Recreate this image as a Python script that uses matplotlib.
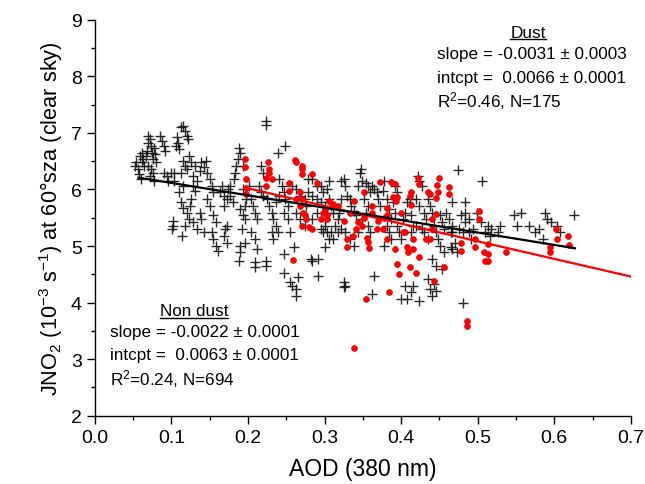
import matplotlib
matplotlib.use("Agg")
import matplotlib.pyplot as plt
from matplotlib.lines import Line2D
from matplotlib.ticker import MultipleLocator

# ===========================
# Data
# ===========================
# non dust days (black crosses)
nondust_aod = [
    0.053, 0.054, 0.056, 0.059, 0.058, 0.060, 0.061, 0.063, 0.064, 0.061, 0.067, 0.068, 0.069, 0.070,
    0.072, 0.074, 0.075, 0.076, 0.077, 0.079, 0.080, 0.076, 0.074, 0.072, 0.069, 0.077, 0.085, 0.088,
    0.091, 0.092, 0.090, 0.094, 0.096, 0.099, 0.101, 0.102, 0.102, 0.104, 0.104, 0.107, 0.108, 0.110,
    0.106,
    0.112, 0.115, 0.118, 0.120, 0.122, 0.115, 0.118, 0.120, 0.112, 0.123, 0.126, 0.128, 0.115, 0.110,
    0.112, 0.115, 0.120, 0.123, 0.118, 0.114, 0.126, 0.128, 0.131, 0.134, 0.137, 0.139, 0.134, 0.142,
    0.128, 0.124, 0.131, 0.137, 0.139, 0.142, 0.145,
    0.147, 0.150, 0.153, 0.155, 0.147, 0.150, 0.155, 0.158, 0.153, 0.155, 0.158, 0.161, 0.163, 0.166,
    0.169, 0.172, 0.169, 0.172, 0.169, 0.173, 0.170, 0.174, 0.177, 0.180, 0.177, 0.182, 0.183, 0.185,
    0.187, 0.188, 0.190, 0.193, 0.190, 0.193, 0.192, 0.190, 0.190, 0.188, 0.196, 0.197, 0.193, 0.196,
    0.196,
    0.201, 0.204, 0.206, 0.209, 0.212, 0.204, 0.209, 0.212, 0.209, 0.209, 0.223, 0.223, 0.223, 0.224,
    0.215, 0.217, 0.220, 0.225, 0.228, 0.231, 0.233, 0.236, 0.239, 0.231, 0.233, 0.217, 0.220, 0.241,
    0.244, 0.247, 0.249, 0.252, 0.239, 0.249, 0.247, 0.247, 0.255, 0.258, 0.263, 0.263, 0.266, 0.260,
    0.255, 0.252, 0.247, 0.236, 0.241,
    0.258, 0.263, 0.268, 0.274, 0.276, 0.279, 0.284, 0.290, 0.295, 0.301, 0.284, 0.290, 0.298, 0.303,
    0.306, 0.306, 0.301, 0.303, 0.306, 0.301, 0.292, 0.284, 0.292, 0.282, 0.263, 0.268, 0.274, 0.284,
    0.290, 0.295, 0.298, 0.301, 0.303, 0.309, 0.311, 0.314, 0.317, 0.295, 0.279,
    0.322, 0.325, 0.327, 0.330, 0.333, 0.335, 0.338, 0.341, 0.344, 0.346, 0.348, 0.349, 0.352, 0.354,
    0.357, 0.360, 0.322, 0.319, 0.317, 0.322, 0.327, 0.325, 0.325, 0.327, 0.309, 0.311, 0.333, 0.338,
    0.344, 0.349, 0.354, 0.357, 0.357, 0.360, 0.362, 0.365, 0.362, 0.365,
    0.368, 0.370, 0.373, 0.376, 0.378, 0.381, 0.384, 0.387, 0.389, 0.392, 0.395, 0.397, 0.400, 0.403,
    0.405, 0.408, 0.411, 0.400, 0.408, 0.405, 0.413, 0.416, 0.392, 0.395, 0.384, 0.387, 0.381, 0.378,
    0.413, 0.416,
    0.422, 0.424, 0.427, 0.419, 0.424, 0.430, 0.432, 0.435, 0.438, 0.440, 0.443, 0.446, 0.448, 0.451,
    0.454, 0.456, 0.459, 0.462, 0.465, 0.424, 0.435, 0.438, 0.440, 0.443, 0.446, 0.440, 0.446, 0.451,
    0.456, 0.454, 0.435, 0.430, 0.413, 0.419, 0.427, 0.467,
    0.474, 0.475, 0.478, 0.481, 0.483, 0.483, 0.489, 0.491, 0.494, 0.499, 0.505, 0.506, 0.510, 0.513,
    0.516, 0.518, 0.470, 0.467, 0.473, 0.465, 0.481, 0.483, 0.489, 0.467, 0.467,
    0.526, 0.529, 0.548, 0.551, 0.556, 0.567, 0.575, 0.580, 0.588, 0.591, 0.596, 0.604, 0.607, 0.626,
    0.585,
]
nondust_j = [
    6.42, 6.48, 6.36, 6.60, 6.27, 6.18, 6.65, 6.54, 6.42, 6.48, 6.60, 6.68, 6.83, 6.95,
    6.89, 6.77, 6.65, 6.54, 6.74, 6.63, 6.48, 6.30, 6.36, 6.24, 6.42, 6.15, 6.95, 6.86,
    6.77, 6.68, 6.30, 6.24, 6.15, 6.30, 5.30, 5.36, 5.45, 6.15, 6.30, 6.92, 6.83, 6.71,
    6.77,
    7.10, 7.13, 7.04, 6.95, 6.89, 6.51, 6.42, 6.36, 6.30, 6.60, 6.48, 6.24, 6.07, 5.95,
    5.77, 5.68, 5.59, 5.48, 5.36, 5.18, 5.83, 6.07, 5.98, 6.15, 5.59, 5.48, 5.30, 5.24,
    5.42, 5.71, 6.42, 6.33, 6.48, 6.39, 6.51,
    6.30, 6.18, 6.07, 5.95, 5.83, 5.71, 5.54, 5.42, 5.24, 5.12, 5.00, 4.92, 5.95, 6.07,
    5.89, 5.83, 5.71, 5.36, 5.18, 5.06, 5.30, 6.01, 5.89, 5.77, 6.07, 6.18, 6.30, 6.42,
    6.54, 6.74, 6.65, 6.42, 5.65, 5.54, 5.30, 5.00, 4.89, 4.74, 5.06, 5.83, 6.01, 5.71,
    5.48,
    6.07, 5.83, 5.71, 5.59, 5.48, 5.24, 5.12, 4.95, 4.71, 4.62, 4.74, 4.65, 7.21, 7.14,
    6.07, 5.95, 5.89, 5.83, 5.71, 5.59, 5.48, 5.36, 5.24, 5.24, 5.12, 6.42, 6.30, 6.18,
    6.07, 5.95, 5.83, 5.71, 6.65, 6.77, 4.86, 4.53, 4.36, 4.30, 4.24, 4.12, 4.45, 4.98,
    5.24, 5.48, 5.59, 5.77, 5.89,
    6.07, 6.01, 5.89, 5.83, 5.71, 5.95, 5.89, 5.83, 5.77, 5.71, 6.18, 6.07, 5.95, 6.01,
    6.15, 5.83, 5.48, 5.24, 5.12, 4.98, 4.77, 4.74, 4.47, 4.77, 5.59, 5.48, 5.36, 5.48,
    5.59, 5.30, 5.24, 5.36, 5.59, 5.71, 5.59, 5.36, 5.24, 6.07, 6.18,
    6.15, 6.18, 6.07, 5.89, 5.83, 5.71, 5.62, 5.54, 6.07, 6.30, 6.36, 6.15, 5.83, 6.12,
    6.07, 5.95, 5.83, 5.59, 5.48, 5.30, 5.24, 4.36, 4.27, 4.30, 5.24, 5.12, 5.12, 5.00,
    5.24, 5.48, 5.59, 5.71, 5.36, 5.24, 6.07, 6.01, 4.15, 4.47,
    5.95, 5.83, 5.71, 5.98, 6.15, 5.83, 5.65, 5.48, 5.77, 5.59, 5.36, 5.24, 5.12, 5.48,
    5.59, 5.77, 5.83, 4.06, 4.06, 4.30, 4.18, 4.30, 6.07, 5.95, 5.24, 5.12, 5.36, 5.00,
    5.24, 5.36,
    6.24, 6.15, 6.07, 5.83, 5.71, 5.59, 5.48, 5.83, 5.71, 5.59, 5.36, 5.24, 5.12, 5.54,
    5.42, 5.30, 5.59, 5.48, 5.24, 4.03, 4.42, 4.24, 4.12, 4.33, 4.21, 4.77, 4.65, 5.00,
    4.89, 4.59, 5.12, 5.24, 5.54, 5.36, 5.30, 5.77,
    6.35, 5.30, 5.54, 5.24, 5.77, 5.59, 5.48, 5.12, 5.30, 5.59, 5.42, 6.15, 5.24, 5.36,
    5.18, 5.30, 5.06, 4.95, 4.89, 4.98, 4.00, 5.42, 5.24, 5.24, 5.36,
    5.24, 5.36, 5.54, 5.36, 5.59, 5.36, 5.24, 5.30, 5.59, 5.48, 5.42, 5.36, 5.24, 5.54,
    5.12,
]

# dust days (red dots)
dust_aod = [
    0.196, 0.196, 0.197, 0.197, 0.198, 0.226, 0.227, 0.228, 0.224, 0.231, 0.223,
    0.261, 0.263, 0.270, 0.271, 0.270, 0.283, 0.290, 0.254, 0.254, 0.263, 0.268, 0.272, 0.274,
    0.276, 0.271, 0.280, 0.284, 0.259, 0.268, 0.271,
    0.298, 0.301, 0.303, 0.306, 0.311, 0.317, 0.295, 0.303,
    0.326, 0.333, 0.338, 0.341, 0.344, 0.351, 0.330, 0.330, 0.337, 0.339, 0.349, 0.352, 0.354,
    0.355, 0.357, 0.358, 0.362, 0.362, 0.368, 0.370,
    0.373, 0.376, 0.378, 0.381, 0.381, 0.382, 0.387, 0.389, 0.392, 0.393, 0.395, 0.392, 0.395,
    0.397, 0.400, 0.403, 0.384,
    0.405, 0.408, 0.409, 0.411, 0.413, 0.413, 0.416, 0.416, 0.419, 0.422, 0.423, 0.424, 0.432,
    0.435, 0.438, 0.438, 0.440, 0.441, 0.446, 0.446, 0.447, 0.448, 0.450, 0.443, 0.456, 0.462,
    0.462, 0.411,
    0.478, 0.478, 0.486, 0.486, 0.497, 0.497, 0.502, 0.502, 0.508, 0.510, 0.513, 0.514, 0.514,
    0.537, 0.594, 0.594, 0.602, 0.603, 0.618, 0.619,
]
dust_j = [
    6.54, 6.39, 6.18, 6.02, 5.92, 6.48, 6.36, 6.30, 6.21, 6.19, 6.07,
    6.52, 6.48, 6.42, 6.36, 6.27, 6.28, 6.12, 6.12, 5.97, 5.83, 5.95, 5.59, 5.54,
    5.48, 5.36, 5.33, 5.30, 4.76, 5.71, 5.83,
    5.59, 5.65, 5.48, 5.80, 5.74, 5.71, 5.48, 5.54,
    5.45, 5.59, 5.80, 5.30, 5.42, 5.96, 5.12, 4.98, 5.18, 3.20, 5.36, 5.50, 4.06,
    5.15, 5.07, 4.97, 5.59, 5.71, 5.30, 5.45,
    6.14, 5.30, 5.50, 5.68, 5.54, 5.12, 6.14, 5.86, 6.10, 5.80, 5.86, 4.95, 4.68,
    4.50, 5.59, 5.24, 4.18,
    5.24, 4.98, 4.89, 4.62, 5.96, 5.73, 5.12, 4.95, 4.52, 6.20, 6.09, 4.80, 5.12,
    5.96, 5.92, 5.12, 5.30, 5.48, 5.56, 5.85, 6.08, 5.95, 6.20, 4.38, 4.62, 5.92,
    6.04, 5.89,
    4.92, 5.06, 3.68, 3.59, 5.12, 4.98, 5.62, 5.48, 4.89, 4.74, 5.03, 4.86, 4.74,
    4.89, 4.98, 4.89, 5.30, 5.12, 5.18, 5.01,
]

# regression lines (end points)
nondust_fit_aod = [0.057, 0.627]
nondust_fit_j = [6.21, 4.96]
dust_fit_aod = [0.200, 0.700]
dust_fit_j = [6.02, 4.46]

dust_text = ["slope = -0.0031 \u00b1 0.0003",
             "intcpt =  0.0066 \u00b1 0.0001",
             "R$^2$=0.46, N=175"]
nondust_text = ["slope = -0.0022 \u00b1 0.0001",
                "intcpt =  0.0063 \u00b1 0.0001",
                "R$^2$=0.24, N=694"]

# ===========================
# Plot
# ===========================
plt.rcParams["font.family"] = ["Liberation Sans", "DejaVu Sans"]
plt.rcParams["mathtext.fontset"] = "custom"
plt.rcParams["mathtext.rm"] = "Liberation Sans"
plt.rcParams["mathtext.it"] = "Liberation Sans:italic"
plt.rcParams["mathtext.default"] = "regular"

fig = plt.figure(figsize=(6.45, 4.85), dpi=100)
ax = fig.add_axes([0.147, 0.141, 0.831, 0.816])

ax.plot(nondust_aod, nondust_j, "+", color="#111111", ms=7, mew=1.0, alpha=0.9, zorder=2)
ax.plot(dust_aod, dust_j, "o", color="#ff0000", mec="#ee0000", ms=4.2, mew=0.5, zorder=3)
ax.plot(dust_fit_aod, dust_fit_j, "-", color="#ff0000", lw=1.6, zorder=4)
ax.plot(nondust_fit_aod, nondust_fit_j, "-", color="black", lw=1.6, zorder=5)

ax.set_xlim(0.0, 0.7)
ax.set_ylim(2, 9)
ax.xaxis.set_major_locator(MultipleLocator(0.1))
ax.xaxis.set_minor_locator(MultipleLocator(0.05))
ax.yaxis.set_major_locator(MultipleLocator(1))
ax.yaxis.set_minor_locator(MultipleLocator(0.5))
ax.set_xticklabels([f"{v:.1f}" for v in ax.get_xticks()])
ax.tick_params(which="major", direction="out", length=6, width=1.0, labelsize=14)
ax.tick_params(which="minor", direction="out", length=3, width=1.0)
ax.spines["top"].set_visible(False)
ax.spines["right"].set_visible(False)
for s in ["left", "bottom"]:
    ax.spines[s].set_linewidth(1.0)

ax.set_xlabel("AOD (380 nm)", fontsize=16.5, labelpad=8)
ax.set_ylabel("JNO$_2$ (10$^{-3}$ s$^{-1}$) at 60\u00b0sza (clear sky)", fontsize=15.7, labelpad=4)

# annotation blocks
fs = 12.3
t_dust = fig.text(528 / 645, 1 - 33 / 485, "Dust", fontsize=fs, ha="center", va="center")
for i, line in enumerate(dust_text):
    fig.text(437 / 645, 1 - (55 + 23 * i) / 485, line, fontsize=fs, ha="left", va="center")
t_nd = fig.text(194 / 645, 1 - 312 / 485, "Non dust", fontsize=fs, ha="center", va="center")
for i, line in enumerate(nondust_text):
    fig.text(110 / 645, 1 - (333 + 23 * i) / 485, line, fontsize=fs, ha="left", va="center")

# underline the block titles
fig.canvas.draw()
r = fig.canvas.get_renderer()
for t in [t_dust, t_nd]:
    bb = t.get_window_extent(r)
    x0, x1 = bb.x0 / fig.bbox.width, bb.x1 / fig.bbox.width
    yy = (bb.y0 + 0.5) / fig.bbox.height
    fig.add_artist(Line2D([x0, x1], [yy, yy], color="black", lw=1.0, transform=fig.transFigure))

fig.savefig("out.png", dpi=100)
